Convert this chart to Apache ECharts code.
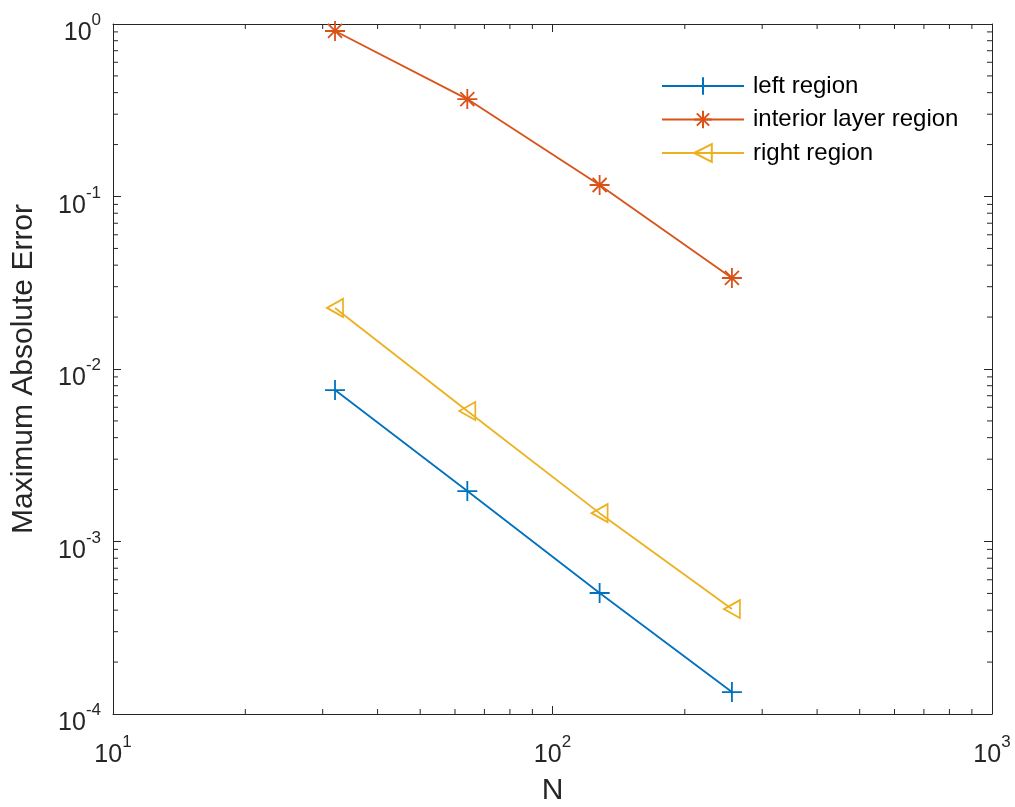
<!DOCTYPE html>
<html>
<head>
<meta charset="utf-8">
<script src="https://cdn.jsdelivr.net/npm/echarts@6/dist/echarts.min.js"></script>
<style>html,body{margin:0;padding:0;background:#fff;}#c{width:1015px;height:807px;}</style>
</head>
<body>
<div id="c"></div>
<script>
var N = [32, 64, 128, 256];
var leftRegion = [0.00755, 0.00196, 0.000503, 0.000134];
var interiorRegion = [0.911, 0.367, 0.1166, 0.0337];
var rightRegion = [0.0226, 0.00571, 0.00146, 0.000406];
var seriesNames = ['left region', 'interior layer region', 'right region'];
var xMinorTicks = [20, 30, 40, 50, 60, 70, 80, 90, 200, 300, 400, 500, 600, 700, 800, 900];
var yMinorTicks = [];
[0.0001, 0.001, 0.01, 0.1].forEach(function (d) {
  for (var k = 2; k <= 9; k++) yMinorTicks.push(+(d * k).toPrecision(3));
});

var C_BLUE = '#0072BD', C_ORANGE = '#D95319', C_YELLOW = '#EDB120';
var AX = '#262626';
var FONT = 'Liberation Sans, Arial, sans-serif';

function pairs(ys) { return N.map(function (x, i) { return [x, ys[i]]; }); }
function expLabel(v) {
  var e = Math.round(Math.log10(v));
  return '{b|10}{s|' + e + '}';
}
var rich = {
  b: { fontSize: 25, fontFamily: FONT, color: AX, verticalAlign: 'bottom', lineHeight: 34 },
  s: { fontSize: 17, fontFamily: FONT, color: AX, verticalAlign: 'top', lineHeight: 34 }
};

var plusPath = 'path://M0,5 L10,5 M5,0 L5,10';
var starPath = 'path://M5,0 L5,10 M0,5 L10,5 M1.5,1.5 L8.5,8.5 M1.5,8.5 L8.5,1.5';
var triPath = 'path://M0,5 L10,0 L10,10 Z';

var chart = echarts.init(document.getElementById('c'), null, { renderer: 'canvas' });

function minorTickRender(isX) {
  return function (params, api) {
    var cs = params.coordSys;
    var p = api.coord([api.value(0), api.value(1)]);
    var L = 5, lines = [];
    if (isX) {
      lines.push([p[0], cs.y + cs.height, p[0], cs.y + cs.height - L]);
      lines.push([p[0], cs.y, p[0], cs.y + L]);
    } else {
      lines.push([cs.x, p[1], cs.x + L, p[1]]);
      lines.push([cs.x + cs.width, p[1], cs.x + cs.width - L, p[1]]);
    }
    return {
      type: 'group',
      children: lines.map(function (l) {
        return { type: 'line', shape: { x1: l[0], y1: l[1], x2: l[2], y2: l[3] },
                 style: { stroke: AX, lineWidth: 1 } };
      })
    };
  };
}

var option = {
  animation: false,
  backgroundColor: '#fff',
  grid: { left: 113, top: 24, right: 23, bottom: 93, containLabel: false, outerBoundsMode: 'none' },
  legend: {
    left: 661, top: 74, orient: 'vertical', padding: 0,
    itemWidth: 82, itemHeight: 22, itemGap: 9.5,
    textStyle: { fontSize: 24, fontFamily: FONT, color: '#000', padding: [0, 0, 0, 4] },
    data: seriesNames
  },
  xAxis: [{
    type: 'log', logBase: 10, min: 10, max: 1000,
    name: 'N', nameLocation: 'middle', nameGap: 62,
    nameTextStyle: { fontSize: 30, fontFamily: FONT, color: AX },
    axisLine: { show: true, lineStyle: { color: AX, width: 1 } },
    axisTick: { show: true, inside: true, length: 8, lineStyle: { color: AX } },
    axisLabel: { formatter: expLabel, rich: rich, margin: 20 },
    splitLine: { show: false }
  }, {
    type: 'log', logBase: 10, min: 10, max: 1000, position: 'top',
    axisLine: { show: true, lineStyle: { color: AX, width: 1 } },
    axisTick: { show: true, inside: true, length: 8, lineStyle: { color: AX } },
    axisLabel: { show: false }, splitLine: { show: false }
  }],
  yAxis: [{
    type: 'log', logBase: 10, min: 0.0001, max: 1,
    name: 'Maximum Absolute Error', nameLocation: 'middle', nameGap: 74,
    nameTextStyle: { fontSize: 30, fontFamily: FONT, color: AX },
    axisLine: { show: true, lineStyle: { color: AX, width: 1 } },
    axisTick: { show: true, inside: true, length: 8, lineStyle: { color: AX } },
    axisLabel: { formatter: expLabel, rich: rich, margin: 12, padding: [10, 0, 0, 0] },
    splitLine: { show: false }
  }, {
    type: 'log', logBase: 10, min: 0.0001, max: 1, position: 'right',
    axisLine: { show: true, lineStyle: { color: AX, width: 1 } },
    axisTick: { show: true, inside: true, length: 8, lineStyle: { color: AX } },
    axisLabel: { show: false }, splitLine: { show: false }
  }],
  series: [{
    name: seriesNames[0], type: 'line', data: pairs(leftRegion),
    symbol: plusPath, symbolSize: 20,
    lineStyle: { color: C_BLUE, width: 1.8 },
    itemStyle: { color: C_BLUE, borderColor: C_BLUE, borderWidth: 1.8 }
  }, {
    name: seriesNames[1], type: 'line', data: pairs(interiorRegion),
    symbol: starPath, symbolSize: 20,
    lineStyle: { color: C_ORANGE, width: 1.8 },
    itemStyle: { color: C_ORANGE, borderColor: C_ORANGE, borderWidth: 1.8 }
  }, {
    name: seriesNames[2], type: 'line', data: pairs(rightRegion),
    symbol: triPath, symbolSize: [16, 18],
    lineStyle: { color: C_YELLOW, width: 1.8 },
    itemStyle: { color: 'rgba(255,255,255,0)', borderColor: C_YELLOW, borderWidth: 1.8 }
  }, {
    type: 'custom', silent: true, renderItem: minorTickRender(true),
    data: xMinorTicks.map(function (v) { return [v, 0.01]; }), z: 1
  }, {
    type: 'custom', silent: true, renderItem: minorTickRender(false),
    data: yMinorTicks.map(function (v) { return [100, v]; }), z: 1
  }]
};
chart.setOption(option);
</script>
</body>
</html>
